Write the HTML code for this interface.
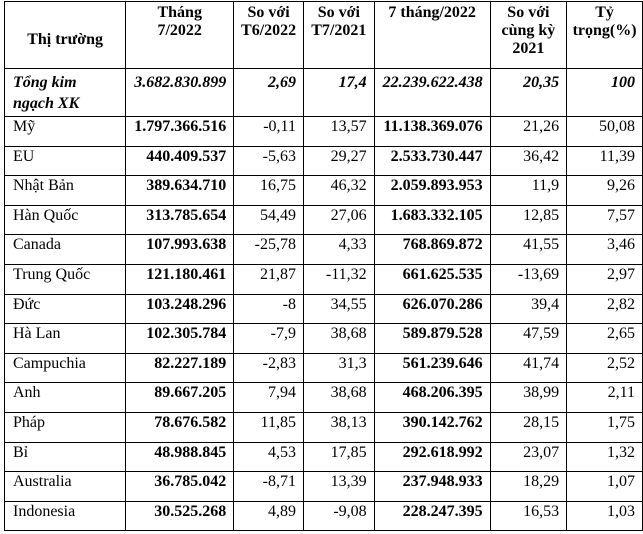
<!DOCTYPE html>
<html><head><meta charset="utf-8"><style>
html,body{margin:0;padding:0;background:#fff;width:643px;height:534px;overflow:hidden}
table{position:absolute;left:4px;top:1px;border-collapse:collapse;table-layout:fixed;font-family:"Liberation Serif",serif;font-size:16px;color:#000}
td{border:1px solid #000;padding:1px 7px 0 8px;vertical-align:top;line-height:17px;white-space:nowrap;overflow:hidden;box-sizing:border-box}
tr.h td{font-weight:bold;text-align:center;line-height:18px;padding:2px 2px 0 2px;white-space:nowrap}
tr.h td.f{vertical-align:middle;padding-top:10px}
tr.t td{font-weight:bold;font-style:italic;padding-top:3px;line-height:21px}
td.r{text-align:right}
td.b{font-weight:bold}
tr.d td{height:29.6px}
</style></head><body>
<table>
<colgroup><col style="width:122px"><col style="width:107px"><col style="width:70px"><col style="width:71px"><col style="width:114px"><col style="width:77px"><col style="width:76px"></colgroup>
<tr class="h"><td class="f" style="height:67px">Thị trường</td><td>Tháng<br>7/2022</td><td>So với<br>T6/2022</td><td>So với<br>T7/2021</td><td>7 tháng/2022</td><td>So với<br>cùng kỳ<br>2021</td><td>Tỷ<br>trọng(%)</td></tr>
<tr class="t"><td style="height:48px">Tổng kim<br>ngạch XK</td><td class="r">3.682.830.899</td><td class="r">2,69</td><td class="r">17,4</td><td class="r">22.239.622.438</td><td class="r">20,35</td><td class="r">100</td></tr>
<tr class="d"><td>Mỹ</td><td class="r b">1.797.366.516</td><td class="r">-0,11</td><td class="r">13,57</td><td class="r b">11.138.369.076</td><td class="r">21,26</td><td class="r">50,08</td></tr>
<tr class="d"><td>EU</td><td class="r b">440.409.537</td><td class="r">-5,63</td><td class="r">29,27</td><td class="r b">2.533.730.447</td><td class="r">36,42</td><td class="r">11,39</td></tr>
<tr class="d"><td>Nhật Bản</td><td class="r b">389.634.710</td><td class="r">16,75</td><td class="r">46,32</td><td class="r b">2.059.893.953</td><td class="r">11,9</td><td class="r">9,26</td></tr>
<tr class="d"><td>Hàn Quốc</td><td class="r b">313.785.654</td><td class="r">54,49</td><td class="r">27,06</td><td class="r b">1.683.332.105</td><td class="r">12,85</td><td class="r">7,57</td></tr>
<tr class="d"><td>Canada</td><td class="r b">107.993.638</td><td class="r">-25,78</td><td class="r">4,33</td><td class="r b">768.869.872</td><td class="r">41,55</td><td class="r">3,46</td></tr>
<tr class="d"><td>Trung Quốc</td><td class="r b">121.180.461</td><td class="r">21,87</td><td class="r">-11,32</td><td class="r b">661.625.535</td><td class="r">-13,69</td><td class="r">2,97</td></tr>
<tr class="d"><td>Đức</td><td class="r b">103.248.296</td><td class="r">-8</td><td class="r">34,55</td><td class="r b">626.070.286</td><td class="r">39,4</td><td class="r">2,82</td></tr>
<tr class="d"><td>Hà Lan</td><td class="r b">102.305.784</td><td class="r">-7,9</td><td class="r">38,68</td><td class="r b">589.879.528</td><td class="r">47,59</td><td class="r">2,65</td></tr>
<tr class="d"><td>Campuchia</td><td class="r b">82.227.189</td><td class="r">-2,83</td><td class="r">31,3</td><td class="r b">561.239.646</td><td class="r">41,74</td><td class="r">2,52</td></tr>
<tr class="d"><td>Anh</td><td class="r b">89.667.205</td><td class="r">7,94</td><td class="r">38,68</td><td class="r b">468.206.395</td><td class="r">38,99</td><td class="r">2,11</td></tr>
<tr class="d"><td>Pháp</td><td class="r b">78.676.582</td><td class="r">11,85</td><td class="r">38,13</td><td class="r b">390.142.762</td><td class="r">28,15</td><td class="r">1,75</td></tr>
<tr class="d"><td>Bỉ</td><td class="r b">48.988.845</td><td class="r">4,53</td><td class="r">17,85</td><td class="r b">292.618.992</td><td class="r">23,07</td><td class="r">1,32</td></tr>
<tr class="d"><td>Australia</td><td class="r b">36.785.042</td><td class="r">-8,71</td><td class="r">13,39</td><td class="r b">237.948.933</td><td class="r">18,29</td><td class="r">1,07</td></tr>
<tr class="d"><td>Indonesia</td><td class="r b">30.525.268</td><td class="r">4,89</td><td class="r">-9,08</td><td class="r b">228.247.395</td><td class="r">16,53</td><td class="r">1,03</td></tr>
</table>
</body></html>
